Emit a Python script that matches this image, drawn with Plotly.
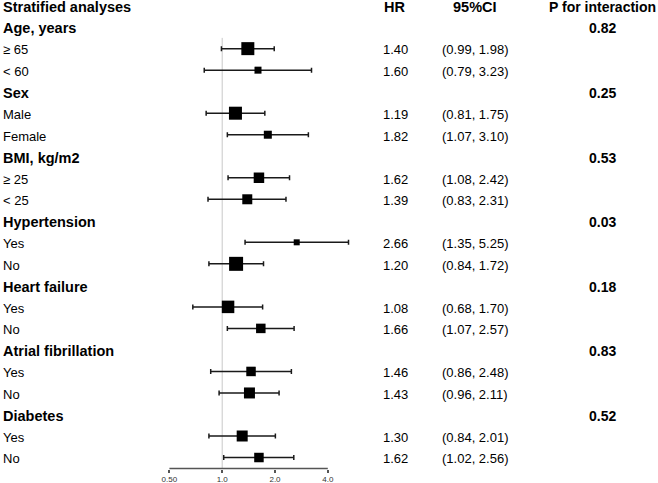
import plotly.graph_objects as go
import numpy as np

# ---------------- data ----------------
header = ["Stratified analyses", "HR", "95%CI", "P for interaction"]
groups = ["Age, years", "Sex", "BMI, kg/m2", "Hypertension",
          "Heart failure", "Atrial fibrillation", "Diabetes"]
p_interaction = ["0.82", "0.25", "0.53", "0.03", "0.18", "0.83", "0.52"]
subgroups = [["≥ 65", "< 60"], ["Male", "Female"], ["≥ 25", "< 25"],
             ["Yes", "No"], ["Yes", "No"], ["Yes", "No"], ["Yes", "No"]]
hr = [1.40, 1.60, 1.19, 1.82, 1.62, 1.39, 2.66, 1.20, 1.08, 1.66, 1.46, 1.43, 1.30, 1.62]
ci_low = [0.99, 0.79, 0.81, 1.07, 1.08, 0.83, 1.35, 0.84, 0.68, 1.07, 0.86, 0.96, 0.84, 1.02]
ci_high = [1.98, 3.23, 1.75, 3.10, 2.42, 2.31, 5.25, 1.72, 1.70, 2.57, 2.48, 2.11, 2.01, 2.56]
box_size = [13, 7, 13, 8, 10.5, 10, 6, 14, 12.5, 9.5, 9.5, 11, 11, 9.5]
tick_vals = [0.5, 1.0, 2.0, 4.0]
tick_text = ["0.50", "1.0", "2.0", "4.0"]

# ---------------- layout helpers ----------------
W, H = 658, 483
FONT = "Liberation Sans, Arial, sans-serif"
row0_px, row_step = 5.6, 21.52
axis_px = 468.5
px_per_doubling = 52.8
one_px = 222.2


def px_x(p):
    return p / W


rows_label, rows_hr, rows_ci, rows_p = [], [], [], []
sub_rows = []
r = 1
k = 0
for g, p, subs in zip(groups, p_interaction, subgroups):
    rows_label.append((r, g, True))
    rows_p.append((r, p))
    r += 1
    for s in subs:
        rows_label.append((r, s, False))
        sub_rows.append(r)
        rows_hr.append((r, f"{hr[k]:.2f}"))
        rows_ci.append((r, f"({ci_low[k]:.2f}, {ci_high[k]:.2f})"))
        k += 1
        r += 1

y_top = -row0_px / row_step
y_bot = (axis_px - row0_px) / row_step
d0 = (H - axis_px) / H

x_lo = np.log10(2 ** (-one_px / px_per_doubling))
x_hi = np.log10(2 ** ((W - one_px) / px_per_doubling))

fig = go.Figure()

fig.add_trace(go.Scatter(
    x=hr, y=sub_rows, mode="markers",
    marker=dict(symbol="square", size=box_size, color="black", opacity=1,
                line=dict(width=0)),
    error_x=dict(type="data", symmetric=False,
                 array=[h - hh for h, hh in zip(ci_high, hr)],
                 arrayminus=[h - l for h, l in zip(hr, ci_low)],
                 color="#1a1a1a", thickness=1.5, width=2.5),
    cliponaxis=False, hoverinfo="skip", showlegend=False,
))

TXT_DY = 0.06  # annotation box centre sits slightly below cap centre

ann = []
ann.append(dict(x=px_x(1), y=0, text="<b>" + header[0] + "</b>", xanchor="left", size=14.5))
ann.append(dict(x=px_x(394), y=0, text="<b>" + header[1] + "</b>", xanchor="center", size=14.5))
ann.append(dict(x=px_x(475), y=0, text="<b>" + header[2] + "</b>", xanchor="center", size=14.5))
ann.append(dict(x=px_x(602), y=0, text="<b>" + header[3] + "</b>", xanchor="center", size=14))
for rr, t, b in rows_label:
    ann.append(dict(x=px_x(1), y=rr, text=("<b>%s</b>" % t) if b else t, xanchor="left",
                    size=14.5 if b else 13))
for rr, t in rows_hr:
    ann.append(dict(x=px_x(395), y=rr, text=t, xanchor="center", size=13))
for rr, t in rows_ci:
    ann.append(dict(x=px_x(475), y=rr, text=t, xanchor="center", size=13))
for rr, t in rows_p:
    ann.append(dict(x=px_x(602.5), y=rr, text="<b>%s</b>" % t, xanchor="center", size=14))
for a in ann:
    size = a.pop("size")
    a["font"] = dict(family=FONT, color="black", size=size)
    a["y"] = a["y"] + TXT_DY
    a.update(xref="paper", yref="y", yanchor="middle", showarrow=False)

fig.update_layout(
    width=W, height=H,
    margin=dict(l=0, r=0, t=0, b=0, pad=0),
    paper_bgcolor="white", plot_bgcolor="white",
    annotations=ann,
    xaxis=dict(type="log", range=[x_lo, x_hi], domain=[0, 1],
               tickvals=tick_vals, ticktext=tick_text,
               ticks="outside", ticklen=3, tickwidth=1.5, tickcolor="#555555",
               tickfont=dict(family=FONT, size=8, color="#333333"),
               showgrid=False, zeroline=False, showline=False),
    yaxis=dict(range=[y_bot, y_top], domain=[d0, 1], visible=False),
    shapes=[
        dict(type="line", xref="x", yref="y", x0=1, x1=1, y0=1.5, y1=y_bot,
             line=dict(color="#c8c8c8", width=1), layer="below"),
        dict(type="line", xref="x", yref="paper", x0=tick_vals[0], x1=tick_vals[-1],
             y0=d0, y1=d0, line=dict(color="#555555", width=1.5)),
    ],
)

fig.write_html("out.html",
               config={"displayModeBar": False},
               post_script="document.body.style.margin='0px';"
                           "document.body.style.overflow='hidden';")
